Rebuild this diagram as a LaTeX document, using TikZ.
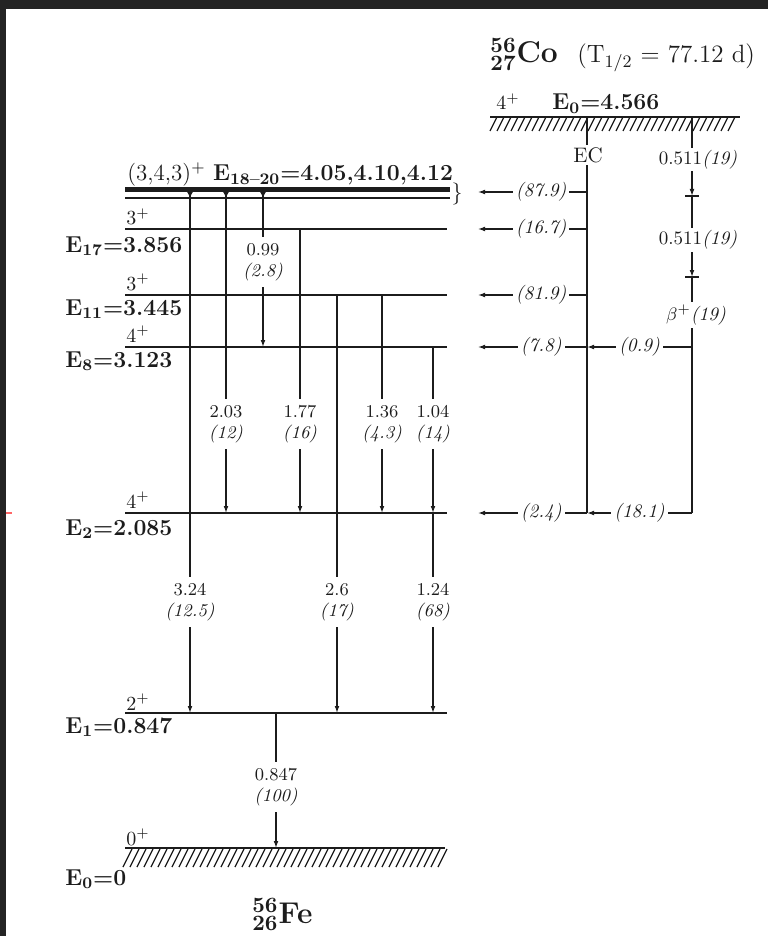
\documentclass[tikz,border=0pt]{standalone}
\usetikzlibrary{arrows.meta}
\definecolor{frame}{RGB}{36,36,36}
\definecolor{ink}{RGB}{28,28,28}
\tikzset{
  level/.style={ink,line width=1pt},
  hatch/.style={ink,line width=0.6pt},
  gam/.style={ink,line width=0.6pt,-{Latex[length=3.5pt,width=2.4pt]}},
  gamtop/.style={ink,line width=0.6pt,{Latex[reversed,length=3pt,width=3pt]}-{Latex[length=3.5pt,width=2.4pt]}},
  feed/.style={ink,line width=0.6pt,-{Latex[length=3.5pt,width=2.4pt]}},
  glab/.style={fill=white,text=ink,inner xsep=1pt,inner ysep=3pt,align=center,font=\fontsize{9}{10.5}\selectfont},
  flab/.style={fill=white,text=ink,inner xsep=1.5pt,inner ysep=1pt,font=\fontsize{9.5}{11}\itshape\selectfont},
  clab/.style={fill=white,text=ink,inner sep=1pt,font=\fontsize{9.5}{11}\selectfont},
  elab/.style={anchor=base west,inner sep=0pt,text=ink,font=\fontsize{11.5}{13}\bfseries\selectfont},
  spin/.style={anchor=base west,inner sep=0pt,text=ink,font=\fontsize{10}{12}\selectfont},
}

\begin{document}
\begin{tikzpicture}[x=0.5pt,y=-0.5pt]
  \useasboundingbox (0,0) rectangle (768,936);
  \fill[white] (0,0) rectangle (768,936);
  \fill[frame] (0,0) rectangle (768,9);
  \fill[frame] (0,0) rectangle (6,936);
  \draw[red!60,line width=0.8pt] (6,513) -- (12,513);

  % 56Fe levels
  \coordinate (L0) at (125,848);
  \coordinate (L1) at (125,713);
  \coordinate (L2) at (125,513);
  \coordinate (L8) at (125,347);
  \coordinate (L11) at (125,295);
  \coordinate (L17) at (125,229);
  \coordinate (L18) at (125,192);
  \foreach \lv in {L1,L2,L8,L11,L17}
    \draw[level] (\lv) -- ++(322,0);
  \draw[ink,line width=2.5pt] (125,189.5) -- (450,189.5);
  \draw[level] (125,198) -- (450,198);
  \node[ink,inner sep=0pt,font=\fontsize{11}{12}\selectfont] (brace) at (457,194) {\}};
  \draw[level] (L0) -- ++(320,0);
  \foreach \x in {123,130,...,438}
    \draw[hatch] (\x,867) -- ++(9,-18);

  \node[anchor=base west,inner sep=0pt,text=ink,font=\fontsize{11.5}{13}\selectfont] (e18) at (127,181)
    {(3,4,3)\textsuperscript{+} \textbf{E\textsubscript{18--20}=4.05,4.10,4.12}};
  \foreach \n/\y/\t in {17/252/3.856, 11/315/3.445, 8/367/3.123, 2/535/2.085, 1/733/0.847, 0/885/0}
    \node[elab] (e\n) at (65,\y) {E\textsubscript{\n}=\t};
  \foreach \n/\y/\s in {17/225/3, 11/290/3, 8/342/4, 2/508/4, 1/710/2, 0/845/0}
    \node[spin] (s\n) at (126,\y) {\s\textsuperscript{+}};

  % gamma transitions
  \coordinate (c1) at (190,0);
  \coordinate (c2) at (226,0);
  \coordinate (c3) at (263,0);
  \coordinate (c4) at (300,0);
  \coordinate (c5) at (337,0);
  \coordinate (c6) at (382,0);
  \coordinate (c7) at (433,0);
  \coordinate (c8) at (276,0);
  \foreach \c/\from/\to in {c1/L18/L1, c2/L18/L2, c3/L18/L8}
    \draw[gamtop] (\c |- \from) -- (\c |- \to);
  \foreach \c/\from/\to in {c4/L17/L2, c5/L11/L1, c6/L11/L2, c7/L8/L2, c7/L2/L1, c8/L1/L0}
    \draw[gam] (\c |- \from) -- (\c |- \to);
  \foreach \x/\y/\e/\i in {263/262/0.99/2.8, 226/424/2.03/12, 300/424/1.77/16, 382/424/1.36/4.3,
      433/424/1.04/14, 190/602/3.24/12.5, 337/602/2.6/17, 433/602/1.24/68, 276/787/0.847/100}
    \node[glab] (g\x-\y) at (\x,\y) {\e\\\textit{(\i)}};

  \node[anchor=base west,inner sep=0pt,text=ink,font=\fontsize{15}{17}\selectfont] (fe) at (252,923)
    {$^{\mathbf{56}}_{\mathbf{26}}$\textbf{Fe}};

  % 56Co parent
  \node[anchor=base west,inner sep=0pt,text=ink,font=\fontsize{15}{17}\selectfont] (co) at (490,63)
    {$^{\mathbf{56}}_{\mathbf{27}}$\textbf{Co}};
  \node[anchor=base west,inner sep=0pt,text=ink,font=\fontsize{12.5}{14}\selectfont] (half) at (577,63)
    {(T\textsubscript{1/2} = 77.12 d)};
  \node[spin] (sco) at (496,110) {4\textsuperscript{+}};
  \node[elab] (eco) at (552,110) {E\textsubscript{0}=4.566};
  \coordinate (C0) at (490,117);
  \draw[level] (C0) -- ++(250,0);
  \foreach \x in {490,497,...,730}
    \draw[hatch] (\x,131) -- ++(7,-14);

  \coordinate (ec) at (587,117);
  \coordinate (bp) at (692,117);
  \coordinate (fd) at (478,0);
  \coordinate (k1) at (692,196);
  \coordinate (k2) at (692,277);
  \draw[ink,line width=0.7pt] (ec) -- (ec |- L2);
  \draw[gam] (bp) -- (k1);
  \draw[gam] (k1) -- (k2);
  \draw[ink,line width=0.7pt] (k2) -- (bp |- L2);
  \foreach \k in {k1,k2}
    \draw[ink,line width=0.6pt] ([xshift=-3.5pt]\k) -- ([xshift=3.5pt]\k);

  \foreach \lv/\p [count=\i] in {L18/87.9, L17/16.7, L11/81.9, L8/7.8, L2/2.4}
    \draw[feed] (ec |- \lv) -- node[flab,pos=0.42] (f\i) {(\p)} (fd |- \lv);
  \draw[feed] (bp |- L8) -- node[flab] (f6) {(0.9)} (ec |- L8);
  \draw[feed] (bp |- L2) -- node[flab] (f7) {(18.1)} (ec |- L2);

  \node[clab,font=\fontsize{10.5}{12}\selectfont] (ecl) at (588,155) {EC};
  \node[clab] (b1) at (698,160) {0.511\textit{(19)}};
  \node[clab] (b2) at (698,240) {0.511\textit{(19)}};
  \node[clab] (b3) at (696,315) {$\beta^{+}$\textit{(19)}};
\end{tikzpicture}
\end{document}
